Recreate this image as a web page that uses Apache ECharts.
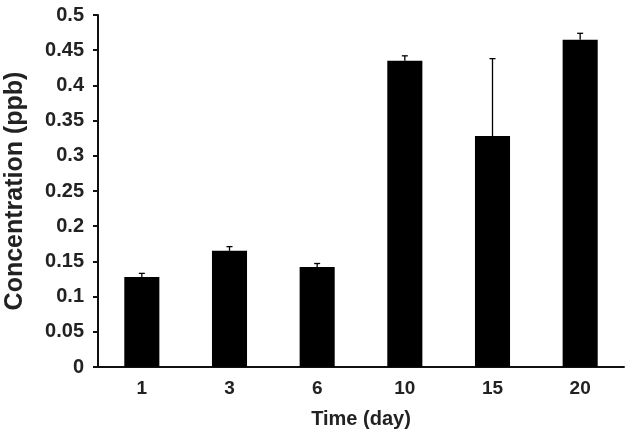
<!DOCTYPE html>
<html>
<head>
<meta charset="utf-8">
<script src="https://cdn.jsdelivr.net/npm/echarts@6/dist/echarts.min.js"></script>
<style>
  html, body { margin: 0; padding: 0; background: #fff; }
  #chart { width: 629px; height: 435px; }
</style>
</head>
<body>
<div id="chart"></div>
<script>
// data
const days = ['1', '3', '6', '10', '15', '20'];
const concentration = [0.128, 0.165, 0.142, 0.435, 0.328, 0.465];
const errorUpper = [0.133, 0.171, 0.147, 0.442, 0.438, 0.474];

const chart = echarts.init(document.getElementById('chart'));

const errData = days.map((d, i) => [i, concentration[i], errorUpper[i]]);

chart.setOption({
  animation: false,
  grid: { left: 98, right: 5, top: 15, bottom: 68, outerBoundsMode: 'none', containLabel: false },
  xAxis: {
    type: 'category',
    data: days,
    name: 'Time (day)',
    nameLocation: 'middle',
    nameGap: 42,
    nameTextStyle: { fontFamily: 'Liberation Sans', fontSize: 20, color: '#222', fontWeight: 'bold' },
    axisLine: { lineStyle: { color: '#111', width: 2 } },
    axisTick: { show: false },
    axisLabel: { fontFamily: 'Liberation Sans', fontSize: 19, fontWeight: 'bold', color: '#222', margin: 12 }
  },
  yAxis: {
    type: 'value',
    min: 0,
    max: 0.5,
    interval: 0.05,
    name: 'Concentration (ppb)',
    nameLocation: 'middle',
    nameGap: 70,
    nameTextStyle: { fontFamily: 'Liberation Sans', fontSize: 25, color: '#222', fontWeight: 'bold' },
    axisLine: { show: true, lineStyle: { color: '#111', width: 2 } },
    axisTick: { show: true, length: 5, lineStyle: { color: '#111', width: 2 } },
    splitLine: { show: false },
    axisLabel: {
      fontFamily: 'Liberation Sans', fontSize: 20, fontWeight: 'bold', color: '#222', margin: 14,
      formatter: v => String(parseFloat(v.toFixed(2)))
    }
  },
  series: [
    {
      type: 'bar',
      data: concentration,
      barWidth: '40%',
      itemStyle: { color: '#000' }
    },
    {
      type: 'custom',
      data: errData,
      z: 1,
      renderItem: function (params, api) {
        const x = api.coord([api.value(0), api.value(1)])[0];
        const yLow = api.coord([api.value(0), api.value(1)])[1];
        const yHigh = api.coord([api.value(0), api.value(2)])[1];
        const style = { stroke: '#000', lineWidth: 1.3 };
        return {
          type: 'group',
          children: [
            { type: 'line', shape: { x1: x, y1: yLow, x2: x, y2: yHigh }, style: style },
            { type: 'line', shape: { x1: x - 3, y1: yHigh, x2: x + 3, y2: yHigh }, style: style }
          ]
        };
      }
    }
  ]
});
</script>
</body>
</html>
